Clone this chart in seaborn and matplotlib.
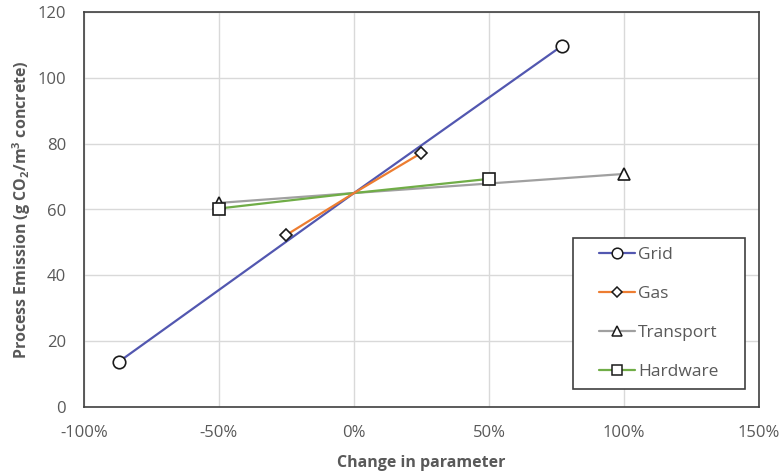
import matplotlib
matplotlib.use("Agg")
import matplotlib.pyplot as plt
from matplotlib.lines import Line2D
from matplotlib.patches import Rectangle
from matplotlib.ticker import PercentFormatter
import seaborn as sns
import pandas as pd

# Data
series_names = ["Grid", "Gas", "Transport", "Hardware"]
grid_x = [-87, 0, 77]
grid_y = [13.8, 65, 109.7]
gas_x = [-25, 0, 25]
gas_y = [52.3, 65, 77.2]
transport_x = [-50, 0, 100]
transport_y = [62.0, 65, 70.8]
hardware_x = [-50, 0, 50]
hardware_y = [60.3, 65, 69.3]
x_ticks = [-100, -50, 0, 50, 100, 150]
y_ticks = [0, 20, 40, 60, 80, 100, 120]

colors = {"Grid": "#5257B0", "Gas": "#ED7D31", "Transport": "#A0A0A0", "Hardware": "#70AD47"}
markers = {"Grid": "o", "Gas": "D", "Transport": "^", "Hardware": "s"}
msizes = {"Grid": 9, "Gas": 6.5, "Transport": 9, "Hardware": 9}

sns.set_theme(style="white")
plt.rcParams["font.family"] = ["Open Sans", "DejaVu Sans"]
plt.rcParams["mathtext.fontset"] = "custom"
plt.rcParams["mathtext.rm"] = "Open Sans"
plt.rcParams["mathtext.bf"] = "Open Sans:bold"
plt.rcParams["axes.unicode_minus"] = False

frames = []
for name, xs, ys in [("Grid", grid_x, grid_y), ("Gas", gas_x, gas_y),
                     ("Transport", transport_x, transport_y), ("Hardware", hardware_x, hardware_y)]:
    frames.append(pd.DataFrame({"x": xs, "y": ys, "series": name}))
df = pd.concat(frames, ignore_index=True)

fig = plt.figure(figsize=(7.81, 4.76), dpi=100)
ax = fig.add_axes([84 / 781, 69 / 476, 675 / 781, 395 / 476])

draw_order = ["Transport", "Hardware", "Grid", "Gas"]
for name in draw_order:
    sub = df[df["series"] == name]
    sns.lineplot(data=sub, x="x", y="y", ax=ax, color=colors[name], linewidth=1.6,
                 legend=False, sort=False, zorder=3)
for name in draw_order:
    sub = df[df["series"] == name]
    ends = sub.iloc[[0, -1]]
    ax.plot(ends["x"], ends["y"], linestyle="none", marker=markers[name],
            markersize=msizes[name], markerfacecolor="white", markeredgecolor="#1a1a1a",
            markeredgewidth=1.2, zorder=4)

ax.set_xlim(-100, 150)
ax.set_ylim(0, 120)
ax.set_xticks(x_ticks)
ax.set_yticks(y_ticks)
ax.xaxis.set_major_formatter(PercentFormatter(decimals=0))
ax.grid(True, color="#D9D9D9", linewidth=1.0)
ax.set_axisbelow(True)
for s in ax.spines.values():
    s.set_color("#404040")
    s.set_linewidth(1.2)
ax.tick_params(axis="both", labelsize=12, colors="#595959", length=0, pad=13)

ax.set_xlabel("Change in parameter", fontsize=11.5, fontweight="bold", color="#595959", labelpad=10)
ax.set_ylabel(r"Process Emission (g CO$_\mathbf{2}$/m$^\mathbf{3}$ concrete)", fontsize=11.5,
              fontweight="bold", color="#595959", labelpad=3)

# legend box
x0, x1 = (573 - 84) / 675, (745 - 84) / 675
y0, y1 = (407 - 389) / 395, (407 - 238) / 395
ax.add_patch(Rectangle((x0, y0), x1 - x0, y1 - y0, transform=ax.transAxes,
                       facecolor="white", edgecolor="#404040", linewidth=1.2, zorder=5))

handles = [Line2D([0], [0], color=colors[n], linewidth=1.6, marker=markers[n],
                  markersize=msizes[n] * 0.85, markerfacecolor="white", markeredgecolor="#1a1a1a",
                  markeredgewidth=1.1) for n in series_names]
leg = ax.legend(handles, series_names, loc="center left",
                bbox_to_anchor=(x0 + 26 / 675, (y0 + y1) / 2),
                fontsize=12.5, frameon=False,
                handlelength=2.1, handletextpad=0.15, labelspacing=1.3, borderpad=0,
                borderaxespad=0)
leg.set_zorder(6)
for t in leg.get_texts():
    t.set_color("#595959")

fig.savefig("out.png", dpi=100, facecolor="white")
